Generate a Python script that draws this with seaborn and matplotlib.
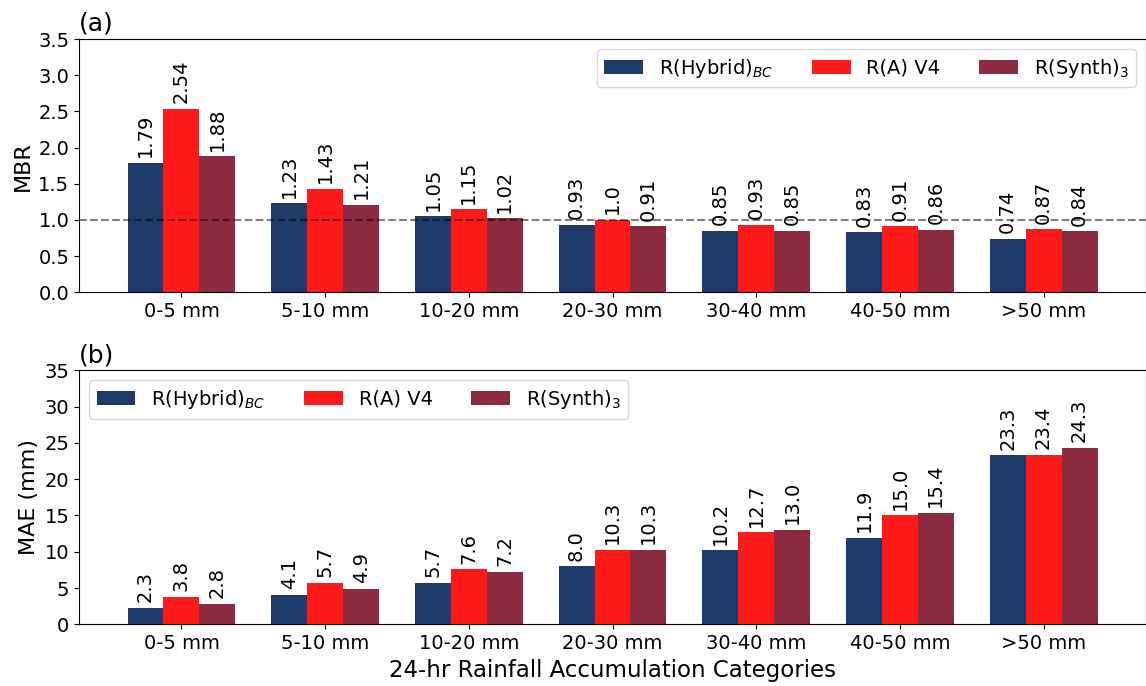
import matplotlib
matplotlib.use("Agg")
import matplotlib.pyplot as plt
import seaborn as sns
import pandas as pd

categories = ["0-5 mm", "5-10 mm", "10-20 mm", "20-30 mm", "30-40 mm", "40-50 mm", ">50 mm"]
series_names = [r"R(Hybrid)$_{BC}$", "R(A) V4", r"R(Synth)$_{3}$"]
colors = ["#1d3a69", "#ff1a1a", "#8c2a40"]

mbr_hybrid = [1.79, 1.23, 1.05, 0.93, 0.85, 0.83, 0.74]
mbr_av4 = [2.54, 1.43, 1.15, 1.00, 0.93, 0.91, 0.87]
mbr_synth = [1.88, 1.21, 1.02, 0.91, 0.85, 0.86, 0.84]

mae_hybrid = [2.3, 4.1, 5.7, 8.0, 10.2, 11.9, 23.3]
mae_av4 = [3.8, 5.7, 7.6, 10.3, 12.7, 15.0, 23.4]
mae_synth = [2.8, 4.9, 7.2, 10.3, 13.0, 15.4, 24.3]


def long_frame(series):
    rows = []
    for name, vals in zip(series_names, series):
        for cat, v in zip(categories, vals):
            rows.append({"category": cat, "series": name, "value": v})
    return pd.DataFrame(rows)


df_mbr = long_frame([mbr_hybrid, mbr_av4, mbr_synth])
df_mae = long_frame([mae_hybrid, mae_av4, mae_synth])

plt.rcParams["font.family"] = ["DejaVu Sans"]
fig = plt.figure(figsize=(11.46, 6.86), dpi=100)
ax1 = fig.add_axes([0.069, 0.574, 0.931, 0.369])
ax2 = fig.add_axes([0.069, 0.090, 0.931, 0.370])


def draw(ax, df, fmt, ylim, yticks, ylabel, title, legend_loc):
    sns.barplot(data=df, x="category", y="value", hue="series", order=categories,
                hue_order=series_names, palette=colors, saturation=1, width=0.75,
                ax=ax, errorbar=None, linewidth=0)
    for cont in ax.containers:
        labels = [fmt(v) for v in cont.datavalues]
        ax.bar_label(cont, labels=labels, rotation=90, padding=4, fontsize=14)
    ax.set_xlim(-0.7125, 6.7125)
    ax.set_ylim(*ylim)
    ax.set_yticks(yticks)
    ax.set_ylabel(ylabel, fontsize=16)
    ax.set_xlabel("")
    ax.set_title(title, loc="left", fontsize=18, pad=6)
    ax.tick_params(labelsize=14)
    ax.legend(loc=legend_loc, ncol=3, fontsize=14, handlelength=2.0, columnspacing=2.0)


draw(ax1, df_mbr, lambda v: str(round(float(v), 2)), (0, 3.5),
     [0, 0.5, 1.0, 1.5, 2.0, 2.5, 3.0, 3.5], "MBR", "(a)", "upper right")
ax1.axhline(1.0, color="black", linestyle="--", alpha=0.5, linewidth=1.5)

draw(ax2, df_mae, lambda v: f"{v:.1f}", (0, 35),
     [0, 5, 10, 15, 20, 25, 30, 35], "MAE (mm)", "(b)", "upper left")
ax2.set_xlabel("24-hr Rainfall Accumulation Categories", fontsize=16.5)

fig.savefig("out.png", dpi=100)
